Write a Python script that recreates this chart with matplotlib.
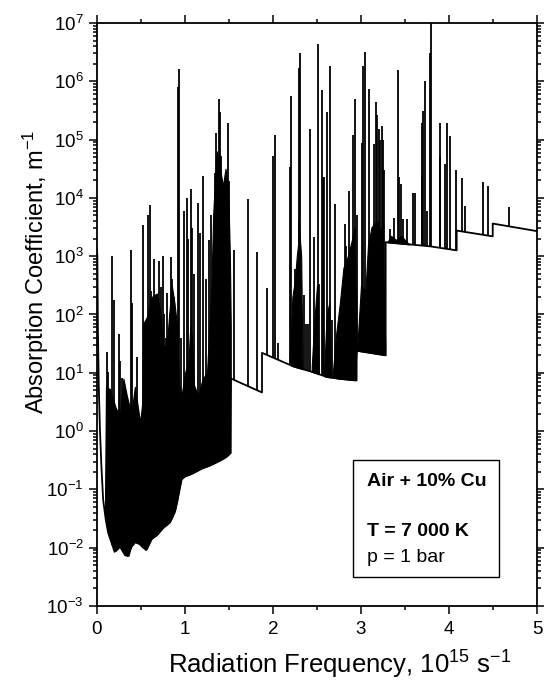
import numpy as np
import matplotlib
matplotlib.use("Agg")
import matplotlib.pyplot as plt
from matplotlib.patches import Rectangle
from matplotlib.ticker import LogLocator, MultipleLocator, NullFormatter

plt.rcParams['font.family'] = ['Liberation Sans', 'DejaVu Sans']
plt.rcParams['mathtext.fontset'] = 'custom'
plt.rcParams['mathtext.rm'] = 'Liberation Sans'
plt.rcParams['mathtext.it'] = 'Liberation Sans:italic'
plt.rcParams['mathtext.bf'] = 'Liberation Sans:bold'

# ---- continuum / lower envelope (frequency in 1e15 s^-1, absorption in m^-1)
cont_x = [0.0, 0.004, 0.01, 0.02, 0.034, 0.05, 0.07, 0.1, 0.127, 0.2, 0.26, 0.32,
          0.36, 0.39, 0.45, 0.51, 0.56, 0.60, 0.68, 0.75, 0.83, 0.89, 0.92, 0.955,
          0.97, 1.076, 1.19, 1.28, 1.40, 1.47, 1.51, 1.52, 1.52, 1.875, 1.875, 2.23,
          2.46, 2.61, 2.76, 2.95, 2.95, 3.28, 3.28, 3.78, 4.087, 4.087, 4.497, 4.497, 5.0]
cont_y = [1300, 1000, 60, 6, 1.0, 0.25, 0.066, 0.03, 0.018, 0.0085, 0.0105, 0.0074,
          0.0072, 0.0105, 0.0135, 0.0105, 0.0091, 0.0135, 0.0166, 0.022, 0.0275, 0.044, 0.074, 0.145,
          0.162, 0.186, 0.23, 0.257, 0.316, 0.363, 0.417, 0.42, 8.0, 4.6, 22, 12.9,
          10.2, 8.5, 7.9, 7.4, 24, 20, 1740, 1480, 1260, 2750, 2190, 3630, 2690]

# ---- dense line bands: upper envelope of the blended lines (log10 of m^-1)
band1_x = [0.09, 0.102, 0.148, 0.21, 0.26, 0.30, 0.34, 0.39, 0.43, 0.49, 0.515, 0.527, 0.565,
           0.62, 0.68, 0.716, 0.75, 0.79, 0.82, 0.85, 0.88, 0.91, 0.93, 0.96, 1.00, 1.04,
           1.06, 1.08, 1.10, 1.15, 1.20, 1.25, 1.30, 1.32, 1.34, 1.36, 1.38, 1.40, 1.43, 1.46,
           1.49, 1.51, 1.52]
band1_top = [-1.45, 0.76, 0.72, 0.41, 0.25, 0.9, 0.6, 0.3, 0.76, 0.15, 0.5, 1.85, 1.95,
             2.3, 2.36, 2.07, 1.5, 1.4, 2.0, 2.5, 2.2, 1.8, 0.8, 0.6, 1.0, 1.2,
             1.8, 1.6, 0.8, 0.6, 0.9, 1.0, 2.5, 3.7, 4.3, 4.8, 4.6, 4.5, 4.2, 4.5,
             4.2, 3.0, 1.8]
band2_x = [2.19, 2.22, 2.25, 2.27, 2.30, 2.32, 2.335]
band2_top = [1.2, 2.3, 2.6, 3.0, 3.4, 3.0, 1.2]
band3_x = [2.44, 2.47, 2.50, 2.52]
band3_top = [1.1, 1.9, 2.5, 1.1]
band4_x = [2.58, 2.61, 2.64, 2.66]
band4_top = [1.0, 2.0, 2.2, 1.0]
band5_x = [2.68, 2.72, 2.76, 2.80, 2.85, 2.90, 2.93, 2.95]
band5_top = [1.0, 1.7, 2.2, 2.8, 3.0, 3.3, 3.5, 1.0]
band6_x = [2.96, 3.00, 3.05, 3.08, 3.12, 3.18, 3.24, 3.275]
band6_top = [1.5, 2.5, 2.4, 3.2, 3.5, 3.6, 3.4, 1.5]
band7_x = [3.30, 3.34, 3.40, 3.46, 3.52, 3.55]
band7_top = [3.24, 3.35, 3.28, 3.35, 3.24, 3.2]

# ---- individual strong lines: position and peak value (m^-1)
line_x = [0.11, 0.125, 0.174, 0.193, 0.246, 0.26, 0.28, 0.33, 0.386, 0.40, 0.45,
          0.527, 0.545, 0.576, 0.598, 0.61, 0.65, 0.708, 0.73, 0.75, 0.76, 0.78, 0.80,
          0.837, 0.85, 0.87, 0.90, 0.922, 0.928, 0.96, 0.989, 1.02, 1.03, 1.065, 1.08,
          1.10, 1.15, 1.17, 1.21, 1.24, 1.273, 1.29, 1.34, 1.356, 1.383, 1.398, 1.41,
          1.44, 1.47, 1.485, 1.50, 1.553, 1.72, 1.814, 1.93, 2.0, 2.02, 2.06, 2.197,
          2.21, 2.25, 2.29, 2.299, 2.307, 2.35, 2.37, 2.40, 2.417, 2.466, 2.508, 2.52,
          2.553, 2.57, 2.58, 2.61, 2.644, 2.67, 2.70, 2.815, 2.83, 2.864, 2.913, 2.93,
          2.96, 3.01, 3.027, 3.04, 3.09, 3.15, 3.167, 3.18, 3.20, 3.215, 3.235, 3.25,
          3.26, 3.33, 3.37, 3.417, 3.43, 3.46, 3.48, 3.52, 3.595, 3.61, 3.69, 3.697,
          3.705, 3.727, 3.746, 3.784, 3.79, 3.894, 3.90, 3.96, 3.974, 4.01, 4.08,
          4.144, 4.18, 4.383, 4.44, 4.685]
line_peak = [23, 10.5, 1.0e3, 180, 47, 16, 8, 4.5, 1.3e3, 155, 19,
             3.4e3, 40, 5.0e3, 7.6e3, 250, 910, 830, 300, 1.0e3, 100, 40, 230,
             980, 400, 200, 60, 8.1e5, 1.6e6, 40, 6.0e3, 1.0e4, 2.0e3, 1.4e4, 3.0e3,
             500, 8.3e3, 2.5e3, 2.4e4, 400, 1.9e3, 5.0e3, 2.7e4, 1.3e5, 4.9e5, 3.0e5, 5.2e4,
             8.0e3, 1.7e4, 1.95e5, 1.95e4, 1.3e3, 9.5e3, 1.2e3, 280, 5.2e4, 1.2e5, 32, 3.4e4,
             5.5e5, 600, 4.1e3, 1.7e6, 3.0e6, 220, 70, 70, 1.5e5, 2.1e3, 4.3e6, 330,
             7.1e5, 2.3e4, 2.3e4, 3.0e5, 1.8e6, 80, 8.0e3, 3.5e3, 1.5e3, 1.3e4, 1.2e5, 4.9e5,
             5.0e3, 8.9e4, 1.8e6, 3.2e6, 7.4e5, 8.5e4, 4.5e5, 2.6e5, 1.5e5, 1.0e5, 1.7e5, 1.0e5,
             3.0e4, 2.9e3, 4.5e3, 1.55e6, 2.3e4, 1.7e4, 4.3e3, 4.4e3, 1.2e4, 1.2e4, 2.4e4, 1.9e5,
             3.1e5, 1.0e6, 6.0e3, 3.1e6, 1.2e7, 1.95e5, 5.0e4, 3.8e4, 1.9e5, 1.15e5, 3.0e4,
             2.2e4, 7.4e3, 1.9e4, 1.6e4, 7.1e3]

x_label = "Radiation Frequency, 10$^{15}$ s$^{-1}$"
y_label = "Absorption Coefficient, m$^{-1}$"
legend_lines = ["Air + 10% Cu", "T = 7 000 K", "p = 1 bar"]

# ---------------------------------------------------------------------------
log_cx = np.array(cont_x)
log_cy = np.log10(cont_y)


def cont_at(x):
    return 10 ** np.interp(x, log_cx, log_cy)


W, H = 544, 682
fig = plt.figure(figsize=(W / 100, H / 100), dpi=100)
ax = fig.add_axes([97 / W, 1 - 606 / H, 440 / W, 583 / H])

lw = 1.3
for bx, bt in [(band1_x, band1_top), (band2_x, band2_top), (band3_x, band3_top),
               (band4_x, band4_top), (band5_x, band5_top), (band6_x, band6_top),
               (band7_x, band7_top)]:
    bx = np.array(bx)
    low = cont_at(bx)
    top = np.maximum(10 ** np.array(bt), low)
    ax.fill_between(bx, low, top, color='black', lw=0.8, edgecolor='black')

lx = np.array(line_x)
ax.vlines(lx, cont_at(lx), line_peak, color='black', lw=lw)
ax.plot(cont_x, cont_y, color='black', lw=lw)

ax.set_yscale('log')
ax.set_xlim(0, 5)
ax.set_ylim(1e-3, 1e7)
ax.xaxis.set_major_locator(MultipleLocator(1))
ax.xaxis.set_minor_locator(MultipleLocator(0.5))
ax.yaxis.set_major_locator(LogLocator(base=10, numticks=20))
ax.yaxis.set_minor_locator(LogLocator(base=10, subs=np.arange(2, 10), numticks=20))
ax.yaxis.set_minor_formatter(NullFormatter())

ax.tick_params(which='both', direction='out', top=True, right=True, width=1.1,
               labelsize=13.5, colors='black')
ax.tick_params(which='major', length=6)
ax.tick_params(which='minor', length=3)
ax.tick_params(axis='x', pad=5)
for s in ax.spines.values():
    s.set_linewidth(1.3)

fig.text(340 / W, 1 - 674 / H, x_label, fontsize=18.5, ha='center', va='baseline')
fig.text(36 / W, 1 - 272 / H, y_label, fontsize=17, ha='center', va='center',
         rotation=90)

ax.add_patch(Rectangle((0.582, 0.050), 0.332, 0.200, transform=ax.transAxes,
                       fill=False, edgecolor='black', lw=1.0, zorder=5))
ax.text(0.614, 0.213, legend_lines[0], transform=ax.transAxes, fontsize=14,
        fontweight='bold', va='center', ha='left')
ax.text(0.614, 0.127, legend_lines[1], transform=ax.transAxes, fontsize=14,
        fontweight='bold', va='center', ha='left')
ax.text(0.614, 0.084, legend_lines[2], transform=ax.transAxes, fontsize=14,
        va='center', ha='left')

fig.savefig("out.png", dpi=100)
